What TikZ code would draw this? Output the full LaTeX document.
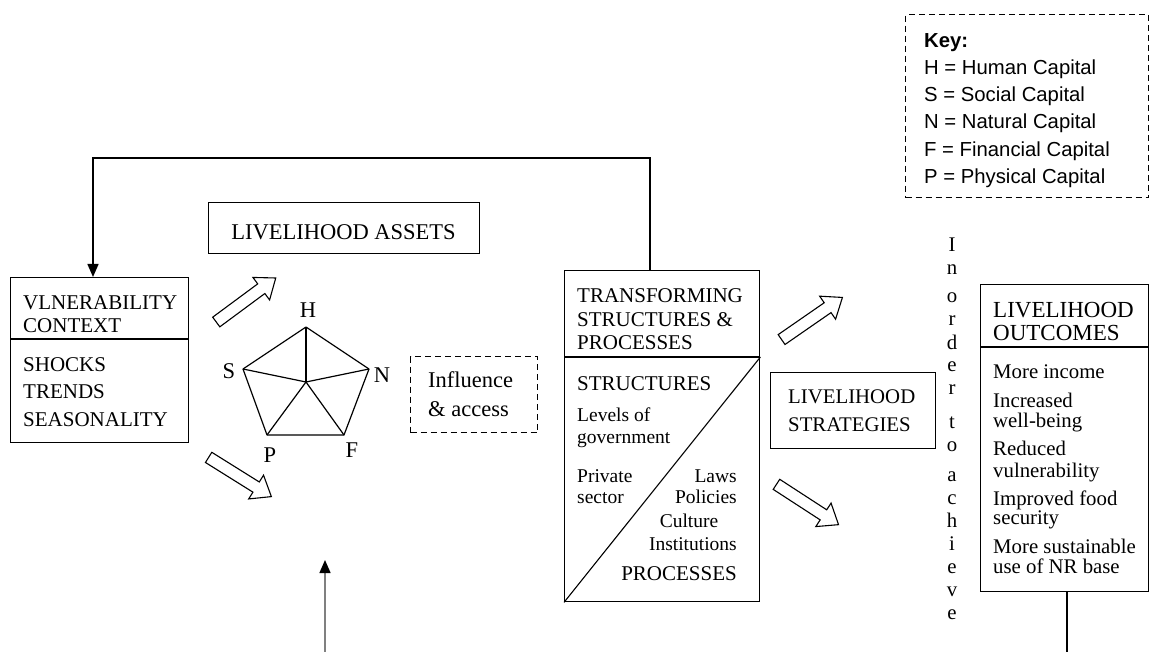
\documentclass[tikz,border=0pt]{standalone}
\usepackage{fontspec}
\setmainfont{Liberation Serif}
\newfontfamily\keyfont{Liberation Sans}
\usetikzlibrary{arrows.meta}
\begin{document}
\begin{tikzpicture}[x=1pt,y=-1pt,
  box/.style={draw, line width=1.4pt, inner sep=0pt, anchor=north west},
  dbox/.style={draw, line width=1.2pt, dash pattern=on 6pt off 4pt, inner sep=0pt, anchor=north west},
  txt/.style={inner sep=0pt, anchor=base west},
  ctxt/.style={inner sep=0pt, anchor=base},
  rtxt/.style={inner sep=0pt, anchor=base east},
  fa/.style={font=\fontsize{21}{24}\selectfont},
  fb/.style={font=\fontsize{19.5}{23}\selectfont},
  fc/.style={font=\fontsize{22.5}{26}\selectfont},
  fd/.style={font=\fontsize{23}{26}\selectfont},
  fe/.style={font=\fontsize{20.8}{24}\selectfont},
  fk/.style={font=\keyfont\fontsize{20.3}{23}\selectfont},
  conn/.style={line width=1.4pt},
  tip/.style={-{Triangle[width=11pt,length=13pt]}},
  hollow/.pic={\draw[line width=1.1pt, fill=white] (-37,-6) -- (19,-6) -- (19,-14) -- (37,0) -- (19,14) -- (19,6) -- (-37,6) -- cycle;}
]
\useasboundingbox (0,0) rectangle (1149,652);

% Key
\node[dbox, minimum width=243pt, minimum height=183pt] (key) at (905,14) {};
\node[txt, font=\keyfont\bfseries\fontsize{20.3}{23}\selectfont] (k0) at (924,48) {Key:};
\node[txt, fk] (k1) at (924,75) {H = Human Capital};
\node[txt, fk] (k2) at (924,102) {S = Social Capital};
\node[txt, fk] (k3) at (924,129) {N = Natural Capital};
\node[txt, fk] (k4) at (924,157) {F = Financial Capital};
\node[txt, fk] (k5) at (924,184) {P = Physical Capital};

% Vulnerability context
\node[box, minimum width=178pt, minimum height=165pt] (vc) at (10,277) {};
\draw[line width=1.4pt] ([yshift=-62pt]vc.north west) -- ([yshift=-62pt]vc.north east);
\node[txt, fa] (vc1) at (23,310) {VLNERABILITY};
\node[txt, fa] (vc2) at (23,333) {CONTEXT};
\node[txt, fa] (vc3) at (23,371.5) {SHOCKS};
\node[txt, fa] (vc4) at (23,399) {TRENDS};
\node[txt, fa] (vc5) at (23,426.5) {SEASONALITY};

% Livelihood assets
\node[box, minimum width=271pt, minimum height=51pt] (la) at (208,202) {};
\node[ctxt, fc] (latxt) at (343.5,240) {LIVELIHOOD ASSETS};

% Pentagon
\coordinate (pH) at (306,327);
\coordinate (pS) at (243,369);
\coordinate (pN) at (369,369);
\coordinate (pP) at (267,435);
\coordinate (pF) at (344,435);
\coordinate (pO) at (306,382);
\draw[line width=1.2pt, line join=round] (pH) -- (pN) -- (pF) -- (pP) -- (pS) -- cycle;
\foreach \v in {pH,pS,pN,pP,pF} \draw[line width=1.2pt] (pO) -- (\v);
\node[ctxt, fc] (lH) at (308,318) {H};
\node[ctxt, fc] (lS) at (229,378) {S};
\node[ctxt, fc] (lN) at (382,383) {N};
\node[ctxt, fc] (lP) at (270,462) {P};
\node[ctxt, fc] (lF) at (352,457) {F};

% Influence & access
\node[dbox, minimum width=127pt, minimum height=76pt] (inf) at (410,356) {};
\node[txt, fc] (inf1) at (428,388) {Influence};
\node[txt, fc] (inf2) at (428,417) {\& access};

% Transforming structures
\node[box, minimum width=195pt, minimum height=331pt] (ts) at (564,270) {};
\draw[line width=1.4pt] ([yshift=-87pt]ts.north west) -- ([yshift=-87pt]ts.north east);
\draw[line width=1.1pt] ([yshift=-87pt]ts.north east) -- (ts.south west);
\node[txt, fa] (ts1) at (577,303) {TRANSFORMING};
\node[txt, fa] (ts2) at (577,327) {STRUCTURES \&};
\node[txt, fa] (ts3) at (577,350) {PROCESSES};
\node[txt, fa] (ts4) at (577,390) {STRUCTURES};
\node[txt, fb] (ts5) at (577,421) {Levels of};
\node[txt, fb] (ts6) at (577,443) {government};
\node[txt, fb] (ts7) at (577,482) {Private};
\node[txt, fb] (ts8) at (577,503) {sector};
\node[rtxt, fb] (ts9) at (737,482) {Laws};
\node[rtxt, fb] (ts10) at (737,503) {Policies};
\node[ctxt, fb] (ts11) at (689,527) {Culture};
\node[rtxt, fb] (ts12) at (737,550) {Institutions};
\node[rtxt, fa] (ts13) at (737,580) {PROCESSES};

% Livelihood strategies
\node[box, minimum width=165pt, minimum height=76pt] (ls) at (770,372) {};
\node[txt, fe] (ls1) at (788,403) {LIVELIHOOD};
\node[txt, fe] (ls2) at (788,431) {STRATEGIES};

% Vertical text
\foreach \l/\yy [count=\i] in {I/252,n/275,o/303,r/326,d/349,e/372,r/395,t/428,o/451,a/481,c/504,h/527,i/550,e/573,v/596,e/619}
  \node[ctxt, fe] (vt\i) at (952,\yy) {\l};

% Livelihood outcomes
\node[box, minimum width=168pt, minimum height=307pt] (lo) at (980,284) {};
\draw[line width=1.4pt] ([yshift=-63pt]lo.north west) -- ([yshift=-63pt]lo.north east);
\node[txt, fd] (lo1) at (993,318) {LIVELIHOOD};
\node[txt, fd] (lo2) at (993,341) {OUTCOMES};
\node[txt, fe] (lo3) at (993,378) {More income};
\node[txt, fe] (lo4) at (993,407) {Increased};
\node[txt, fe] (lo5) at (993,427) {well-being};
\node[txt, fe] (lo6) at (993,455) {Reduced};
\node[txt, fe] (lo7) at (993,477) {vulnerability};
\node[txt, fe] (lo8) at (993,505) {Improved food};
\node[txt, fe] (lo9) at (993,524) {security};
\node[txt, fe] (lo10) at (993,553) {More sustainable};
\node[txt, fe] (lo11) at (993,573) {use of NR base};

% Hollow arrows
\pic[rotate=36.5] at (246,300) {hollow};
\pic[rotate=-32] at (240,477) {hollow};
\pic[rotate=34.7] at (812,318.5) {hollow};
\pic[rotate=-33] at (807.5,504.5) {hollow};

% Connectors
\coordinate (c1) at (650,158);
\coordinate (c2) at (93,158);
\draw[conn, tip, line join=miter] (ts.north -| c1) -- (c1) -- (c2) -- (c2 |- vc.north);
\coordinate (b1) at (325,652);
\coordinate (b2) at (325,560);
\draw[conn, black!50, -{Triangle[width=11pt,length=13pt,color=black,fill=black]}] (b1) -- (b2);
\coordinate (b3) at (1067,652);
\draw[conn] (lo.south -| b3) -- (b3);
\end{tikzpicture}
\end{document}
